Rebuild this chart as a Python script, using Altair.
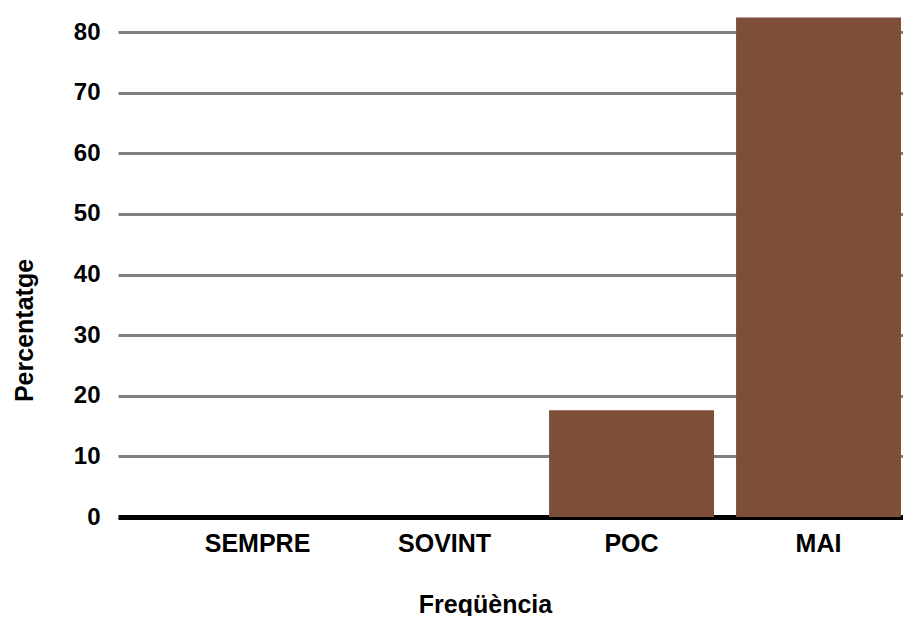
import altair as alt
import pandas as pd

categories = ["SEMPRE", "SOVINT", "POC", "MAI"]
values = [0.0, 0.0, 17.6, 82.4]
y_ticks = [0, 10, 20, 30, 40, 50, 60, 70, 80]

df = pd.DataFrame({"Freqüència": categories, "Percentatge": values})

FONT = "Liberation Sans"

chart = alt.Chart(df).mark_bar(color="#7D4F39").encode(
    x=alt.X(
        "Freqüència:N",
        sort=categories,
        scale=alt.Scale(paddingInner=0.118, paddingOuter=0.158, align=0.966),
        axis=alt.Axis(
            title="Freqüència",
            labelAngle=0,
            labelFont=FONT,
            labelFontSize=25,
            labelFontWeight="bold",
            labelColor="black",
            labelPadding=14,
            ticks=False,
            domain=True,
            domainColor="black",
            domainWidth=5,
            grid=False,
            titleFont=FONT,
            titleFontSize=25,
            titleFontWeight="bold",
            titleColor="black",
            titleX=367,
            titleY=95,
            titleBaseline="alphabetic",
        ),
    ),
    y=alt.Y(
        "Percentatge:Q",
        scale=alt.Scale(domain=[0, 83.96], nice=False),
        axis=alt.Axis(
            title="Percentatge",
            values=y_ticks,
            labelFont=FONT,
            labelFontSize=24,
            labelFontWeight="bold",
            labelColor="black",
            labelPadding=18,
            ticks=False,
            domain=False,
            grid=True,
            gridColor="#7f7f7f",
            gridWidth=3,
            titleFont=FONT,
            titleFontSize=25,
            titleFontWeight="bold",
            titleColor="black",
            titleX=-94,
            titleY=322,
            titleBaseline="middle",
            titleAlign="center",
        ),
    ),
).properties(
    width=785,
    height=509,
    autosize=alt.AutoSizeParams(type="none"),
    padding={"left": 110, "top": 0, "right": 0, "bottom": 99},
).configure_view(stroke=None).configure_axisY(gridCap="butt")

chart.save("out.html", embed_options={"renderer": "svg", "actions": False})
